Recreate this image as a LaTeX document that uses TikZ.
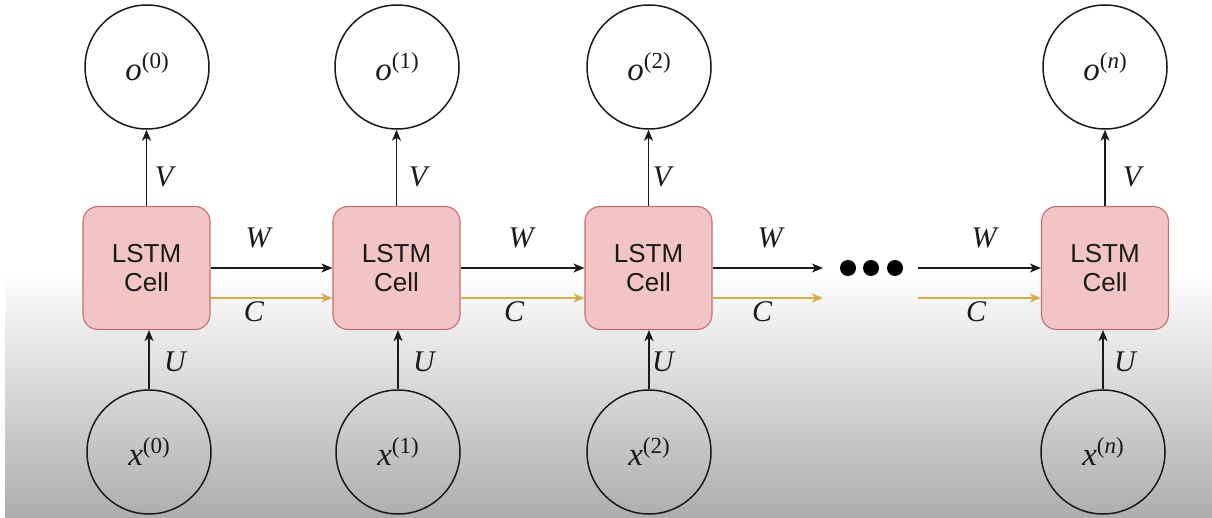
\documentclass[tikz,border=0pt]{standalone}
\usepackage{fontspec}
\setmainfont{Liberation Serif}
\newfontfamily\cellfont{Liberation Sans}
\usetikzlibrary{arrows.meta,calc}
\definecolor{cellfill}{HTML}{F2C4C5}
\definecolor{celldraw}{HTML}{C0706E}
\definecolor{gold}{HTML}{D2AE4E}
\definecolor{ink}{HTML}{1A1A1A}
\definecolor{shadebot}{HTML}{ADADAD}
\newcommand{\lblsup}[2]{\textit{#1}\raisebox{12pt}{\fontsize{23}{23}\selectfont(#2)}}
\tikzset{
  cellbox/.style={draw=celldraw, fill=cellfill, line width=1.1pt, rounded corners=15pt,
    minimum width=127pt, minimum height=123pt, inner sep=0pt, align=center,
    font=\cellfont\fontsize{26}{29}\selectfont, text=ink},
  vnode/.style={draw=ink, circle, minimum size=124pt, inner sep=0pt, line width=1.5pt,
    font=\fontsize{33}{33}\selectfont, text=ink},
  arr/.style={draw=ink, line width=1.3pt, -{Stealth[length=11pt,width=9pt,inset=3pt]}},
  carr/.style={draw=gold, line width=1.3pt, -{Stealth[length=11pt,width=9pt,inset=3pt]}},
  lbl/.style={font=\fontsize{30}{30}\selectfont\itshape, text=ink, inner sep=0pt},
  dot/.style={fill=black, circle, minimum size=16pt, inner sep=0pt}
}
\begin{document}
\begin{tikzpicture}[x=1pt,y=-1pt]
\useasboundingbox (0,0) rectangle (1212,518);
\fill[white] (0,0) rectangle (1212,518);
\shade[top color=white, bottom color=shadebot] (5,270) rectangle (1212,518);
% cells
\node[cellbox] (b1) at (146.5,268) {LSTM\\Cell};
\node[cellbox] (b2) at (396.5,268) {LSTM\\Cell};
\node[cellbox] (b3) at (648.5,268) {LSTM\\Cell};
\node[cellbox] (b4) at (1105,268) {LSTM\\Cell};
% outputs
\node[vnode] (o1) at (147,67) {\lblsup{o}{0}};
\node[vnode] (o2) at (397,67) {\lblsup{o}{1}};
\node[vnode] (o3) at (649,67) {\lblsup{o}{2}};
\node[vnode] (o4) at (1105,67) {\lblsup{o}{\textit{n}}};
% inputs
\node[vnode] (x1) at (149,452) {\lblsup{x}{0}};
\node[vnode] (x2) at (398,452) {\lblsup{x}{1}};
\node[vnode] (x3) at (649,452) {\lblsup{x}{2}};
\node[vnode] (x4) at (1103,452) {\lblsup{x}{\textit{n}}};
% dots
\node[dot] (d1) at (848,268) {};
\node[dot] (d2) at (871,268) {};
\node[dot] (d3) at (895,268) {};
\coordinate (wend) at (823,268);
\coordinate (cend) at (823,298);
\coordinate (wstart) at (918,268);
\coordinate (cstart) at (918,298);
% vertical arrows
\foreach \i in {1,2,3,4}{
  \draw[arr] (b\i.north) -- (b\i.north |- o\i.south);
  \draw[arr] (x\i.north) -- (x\i.north |- b\i.south);
}
% W arrows
\draw[arr] (b1.east) -- (b2.west);
\draw[arr] (b2.east) -- (b3.west);
\draw[arr] (b3.east) -- (wend);
\draw[arr] (wstart) -- (b4.west);
% C arrows
\draw[carr] ($(b1.east)+(0,30)$) -- ($(b2.west)+(0,30)$);
\draw[carr] ($(b2.east)+(0,30)$) -- ($(b3.west)+(0,30)$);
\draw[carr] ($(b3.east)+(0,30)$) -- (cend);
\draw[carr] (cstart) -- ($(b4.west)+(0,30)$);
% labels
\node[lbl] (v1) at (164,177) {V};
\node[lbl] (v2) at (418,177) {V};
\node[lbl] (v3) at (662,177) {V};
\node[lbl] (v4) at (1132,177) {V};
\node[lbl] (u1) at (175,362) {U};
\node[lbl] (u2) at (424,362) {U};
\node[lbl] (u3) at (663,362) {U};
\node[lbl] (u4) at (1125,362) {U};
\node[lbl] (w1) at (258,238) {W};
\node[lbl] (w2) at (521,238) {W};
\node[lbl] (w3) at (770,238) {W};
\node[lbl] (w4) at (984,238) {W};
\node[lbl] (c1) at (254,312) {C};
\node[lbl] (c2) at (514,312) {C};
\node[lbl] (c3) at (762,312) {C};
\node[lbl] (c4) at (976,312) {C};
\end{tikzpicture}
\end{document}
